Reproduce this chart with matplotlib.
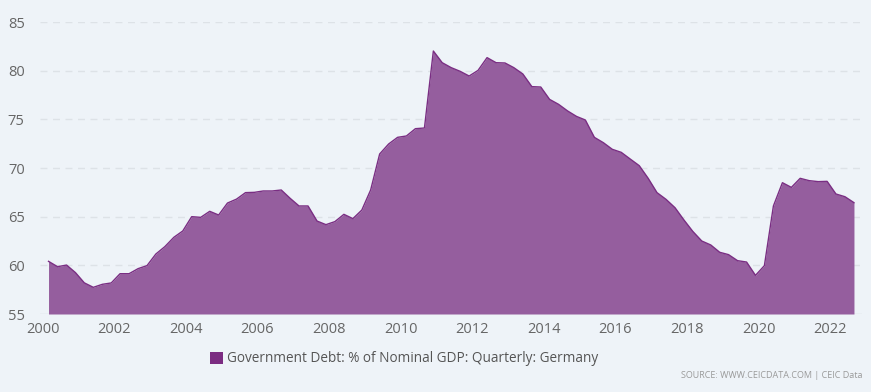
import matplotlib
matplotlib.use("Agg")
import matplotlib.pyplot as plt
import matplotlib.dates as mdates
import pandas as pd
import numpy as np
from matplotlib.patches import Patch

start_quarter = "2000-03-01"
values = [
    60.41, 59.86, 60.03, 59.25, 58.20, 57.74, 58.05, 58.19,
    59.14, 59.14, 59.66, 59.97, 61.16, 61.92, 62.88, 63.53,
    65.00, 64.93, 65.55, 65.17, 66.40, 66.80, 67.47, 67.50,
    67.64, 67.64, 67.74, 66.88, 66.10, 66.10, 64.55, 64.18,
    64.49, 65.24, 64.80, 65.68, 67.74, 71.44, 72.47, 73.15,
    73.29, 74.04, 74.11, 82.02, 80.82, 80.31, 79.93, 79.45,
    80.03, 81.34, 80.82, 80.79, 80.31, 79.66, 78.36, 78.32,
    77.05, 76.54, 75.86, 75.30, 74.93, 73.15, 72.60, 71.92,
    71.61, 70.92, 70.24, 68.94, 67.47, 66.78, 65.92, 64.66,
    63.49, 62.50, 62.09, 61.34, 61.10, 60.48, 60.34, 58.97,
    59.97, 66.10, 68.49, 68.01, 68.94, 68.70, 68.60, 68.63,
    67.33, 67.05, 66.44,
]
y_ticks = [55, 60, 65, 70, 75, 80, 85]
series_label = "Government Debt: % of Nominal GDP: Quarterly: Germany"
source_text = "SOURCE: WWW.CEICDATA.COM | CEIC Data"

dates = pd.date_range(start_quarter, periods=len(values), freq="3MS")

bg = "#eef3f8"
fig = plt.figure(figsize=(8.71, 3.92), dpi=100, facecolor=bg)
ax = fig.add_axes([40/871, 1-314/392, (862-40)/871, (314-22)/392])
ax.set_facecolor(bg)

ax.fill_between(dates, values, 55, color="#955e9e", linewidth=0, zorder=2)
ax.plot(dates, values, color="#7a2e83", linewidth=1.0, zorder=3)

ax.set_ylim(55, 85)
ax.set_xlim(pd.Timestamp("1999-12-05"), pd.Timestamp("2022-11-22"))
ax.set_yticks(y_ticks)
ax.xaxis.set_major_locator(mdates.YearLocator(2))
ax.xaxis.set_major_formatter(mdates.DateFormatter("%Y"))

for v in y_ticks[1:]:
    ax.axhline(v, color="#dde2e7", linewidth=1, linestyle=(0, (5, 4)), zorder=1)
ax.axhline(55, color="#d8dde2", linewidth=1, zorder=1)

for s in ax.spines.values():
    s.set_visible(False)
ax.tick_params(axis="both", length=0, labelsize=10.5, colors="#666666")
ax.tick_params(axis="y", pad=11)
ax.tick_params(axis="x", pad=6)
for lab in ax.get_xticklabels() + ax.get_yticklabels():
    lab.set_fontfamily("Open Sans")

handle = Patch(facecolor="#7b2c82", edgecolor="none")
leg = fig.legend([handle], [series_label], loc="center", bbox_to_anchor=(404/871, 1-359/392),
                 frameon=False, handlelength=1.0, handleheight=1.0, handletextpad=0.3,
                 prop={"family": "Open Sans", "size": 9.8})
for t in leg.get_texts():
    t.set_color("#555555")

fig.text(862/871, 1-375/392, source_text, ha="right", va="center", fontsize=6.5,
         color="#9a9a9a", fontfamily="Open Sans")

fig.savefig("out.png", dpi=100, facecolor=bg)
